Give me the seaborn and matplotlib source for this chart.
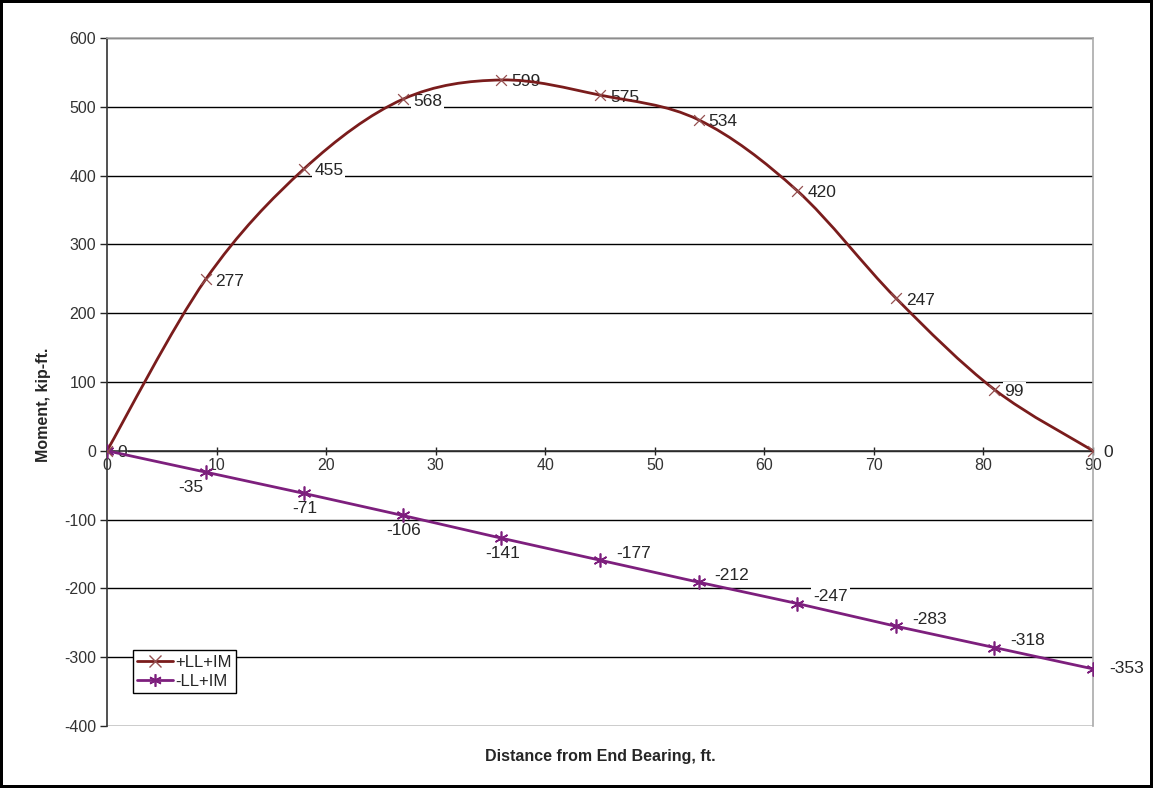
import numpy as np
import pandas as pd
import seaborn as sns
import matplotlib.pyplot as plt
from matplotlib.path import Path
from matplotlib.patches import PathPatch
from matplotlib.lines import Line2D

# ---- data ----
distance = [0, 9, 18, 27, 36, 45, 54, 63, 72, 81, 90]
pos_moment = [0, 249, 410, 511, 539, 517, 481, 378, 222, 89, 0]
neg_moment = [0, -31, -62, -94, -127, -159, -191, -222, -255, -286, -317]
pos_labels = ['0', '277', '455', '568', '599', '575', '534', '420', '247', '99', '0']
neg_labels = ['0', '-35', '-71', '-106', '-141', '-177', '-212', '-247', '-283', '-318', '-353']
x_ticks = [0, 10, 20, 30, 40, 50, 60, 70, 80, 90]
y_ticks = [-400, -300, -200, -100, 0, 100, 200, 300, 400, 500, 600]

pos_color = '#7a1c1c'
neg_color = '#7d1f7d'

sns.set_style('white')
plt.rcParams['font.family'] = ['Liberation Sans', 'DejaVu Sans']
plt.rcParams['axes.unicode_minus'] = False

df = pd.DataFrame({'dist': distance, 'pos': pos_moment, 'neg': neg_moment})

fig = plt.figure(figsize=(11.53, 7.88), dpi=100)
fig.patch.set_edgecolor('black')
fig.patch.set_linewidth(3)
ax = fig.add_axes([0.0928, 0.0787, 0.8552, 0.8731])

# smoothed curve for +LL+IM (excel style smoothing, bezier through the points)
pts = df[['dist', 'pos']].to_numpy(dtype=float)
ext = np.vstack([pts[0], pts, pts[-1]])
verts = [tuple(pts[0])]
codes = [Path.MOVETO]
for i in range(1, len(ext) - 2):
    p0, p1, p2, p3 = ext[i - 1], ext[i], ext[i + 1], ext[i + 2]
    verts += [tuple(p1 + (p2 - p0) / 6), tuple(p2 - (p3 - p1) / 6), tuple(p2)]
    codes += [Path.CURVE4] * 3
ax.add_patch(PathPatch(Path(verts, codes), fc='none', ec=pos_color, lw=2, zorder=3))
sns.scatterplot(data=df, x='dist', y='pos', marker='x', color='#945050', s=60,
                linewidth=0.9, zorder=4, ax=ax, legend=False)

sns.lineplot(data=df, x='dist', y='neg', color=neg_color, lw=2, marker=(6, 2, 0),
             markersize=10, markeredgewidth=1.2, markeredgecolor=neg_color,
             zorder=3, ax=ax)

ax.set_xlim(0, 90)
ax.set_ylim(-400, 600)
ax.set_xticks(x_ticks)
ax.set_yticks(y_ticks)
ax.grid(axis='y', color='black', lw=1, zorder=0)
ax.set_axisbelow(True)

ax.spines['bottom'].set_position(('data', 0))
ax.spines['bottom'].set_color('#333333')
ax.spines['left'].set_color('#333333')
ax.spines['top'].set_color('#aaaaaa')
ax.spines['right'].set_color('#aaaaaa')
for s in ax.spines.values():
    s.set_linewidth(1.2)

ax.tick_params(axis='y', left=True, direction='out', length=5, width=1, labelsize=11.5,
               labelcolor='#333333', pad=3)
ax.tick_params(axis='x', bottom=True, direction='inout', length=6, width=1, labelsize=11.5,
               labelcolor='#333333', pad=2)

# data labels (white box hides the gridline, curves stay on top)
box = dict(boxstyle='square,pad=0.1', fc='white', ec='none')
for x, y, t in zip(distance, pos_moment, pos_labels):
    ax.annotate(t, (x, y), xytext=(10, -2), textcoords='offset pixels', fontsize=12.5,
                ha='left', va='center', bbox=box, zorder=2.5)
for i, (x, y, t) in enumerate(zip(distance, neg_moment, neg_labels)):
    if i == 0:
        continue
    if i == 1:
        ax.annotate(t, (x, y), xytext=(-2, -8), textcoords='offset pixels', fontsize=12.5,
                    ha='right', va='top', bbox=box, zorder=2.5)
    elif i <= 4:
        ax.annotate(t, (x, y), xytext=(1, -8), textcoords='offset pixels', fontsize=12.5,
                    ha='center', va='top', bbox=box, zorder=2.5)
    else:
        dy = 0 if i == len(distance) - 1 else 7
        ax.annotate(t, (x, y), xytext=(16, dy), textcoords='offset pixels', fontsize=12.5,
                    ha='left', va='center', bbox=box, zorder=2.5)

ax.set_xlabel('Distance from End Bearing, ft.', fontsize=11.5, fontweight='bold')
ax.xaxis.set_label_coords(0.5, -0.034)
ax.set_ylabel('Moment, kip-ft.', fontsize=11.5, fontweight='bold')
ax.yaxis.set_label_coords(-0.057, 0.467)

handles = [Line2D([], [], color=pos_color, lw=2, marker='x', markersize=8,
                  markeredgecolor='#945050', markeredgewidth=1),
           Line2D([], [], color=neg_color, lw=2, marker=(6, 2, 0), markersize=9,
                  markeredgewidth=1.2)]
leg = ax.legend(handles, ['+LL+IM', '-LL+IM'], loc='lower left',
                bbox_to_anchor=(0.026, 0.048), fontsize=12, fancybox=False,
                edgecolor='black', framealpha=1, handlelength=2.2,
                handletextpad=0.1, borderpad=0.25, labelspacing=0.25, borderaxespad=0)
leg.get_frame().set_linewidth(1)

fig.savefig('out.png', dpi=100)
